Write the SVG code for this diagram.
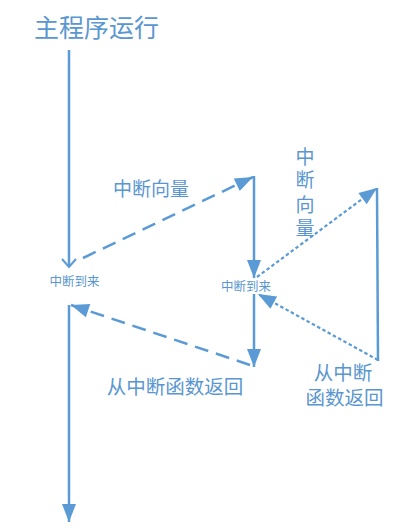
<svg xmlns="http://www.w3.org/2000/svg" width="415" height="529" viewBox="0 0 415 529">
<style>
.t{font-family:"Noto Sans CJK SC","Noto Sans",sans-serif;fill:#5a96cf;text-anchor:middle}
.ln{stroke:#5b9bd5;stroke-width:2.5;fill:none}
.dash{stroke-dasharray:14 8}
.dot{stroke-dasharray:3.5 2.5;stroke-width:2.2}
</style>
<defs>
<marker id="fa" markerUnits="userSpaceOnUse" markerWidth="19" markerHeight="14" refX="18" refY="7" orient="auto" overflow="visible">
<path d="M0,0 L18,7 L0,14 z" fill="#5b9bd5"/>
</marker>
<marker id="oa" markerUnits="userSpaceOnUse" markerWidth="12" markerHeight="16" refX="9" refY="8" orient="auto" overflow="visible">
<path d="M1,1 L9,8 L1,15" fill="none" stroke="#5b9bd5" stroke-width="2"/>
</marker>
</defs>
<rect width="415" height="529" fill="#ffffff"/>
<g id="title"><text class="t" x="96.5" y="36.5" font-size="25">主程序运行</text></g>
<g id="int-arrive-1"><text class="t" x="74.5" y="286" font-size="12.5">中断到来</text></g>
<g id="int-arrive-2"><text class="t" x="246" y="291" font-size="12.5">中断到来</text></g>
<g id="vector-1"><text class="t" x="151" y="196" font-size="19">中断向量</text></g>
<g id="vector-2">
<text class="t" font-size="19"><tspan x="305" y="164">中</tspan><tspan x="305" y="187">断</tspan><tspan x="305" y="212">向</tspan><tspan x="305" y="235">量</tspan></text>
</g>
<g id="return-1"><text class="t" x="175" y="394" font-size="19.5">从中断函数返回</text></g>
<g id="return-2">
<text class="t" font-size="19.5"><tspan x="343" y="380">从中断</tspan><tspan x="344.5" y="405">函数返回</tspan></text>
</g>
<g id="connectors">
<line class="ln" x1="69" y1="50" x2="69" y2="267" marker-end="url(#oa)"/>
<line class="ln dash" x1="83" y1="258" x2="253" y2="177" marker-end="url(#fa)"/>
<line class="ln" x1="254" y1="176" x2="254" y2="278" marker-end="url(#fa)"/>
<line class="ln dot" x1="257" y1="277" x2="377" y2="188" marker-end="url(#fa)"/>
<line class="ln" x1="377" y1="188" x2="378" y2="361"/>
<line class="ln dot" x1="378" y1="360" x2="258" y2="294" marker-end="url(#fa)"/>
<line class="ln" x1="254" y1="294" x2="254" y2="367" marker-end="url(#fa)"/>
<line class="ln dash" x1="250" y1="365" x2="71" y2="305" marker-end="url(#fa)"/>
<line class="ln" x1="69" y1="305" x2="69" y2="522" marker-end="url(#fa)"/>
</g>
</svg>
